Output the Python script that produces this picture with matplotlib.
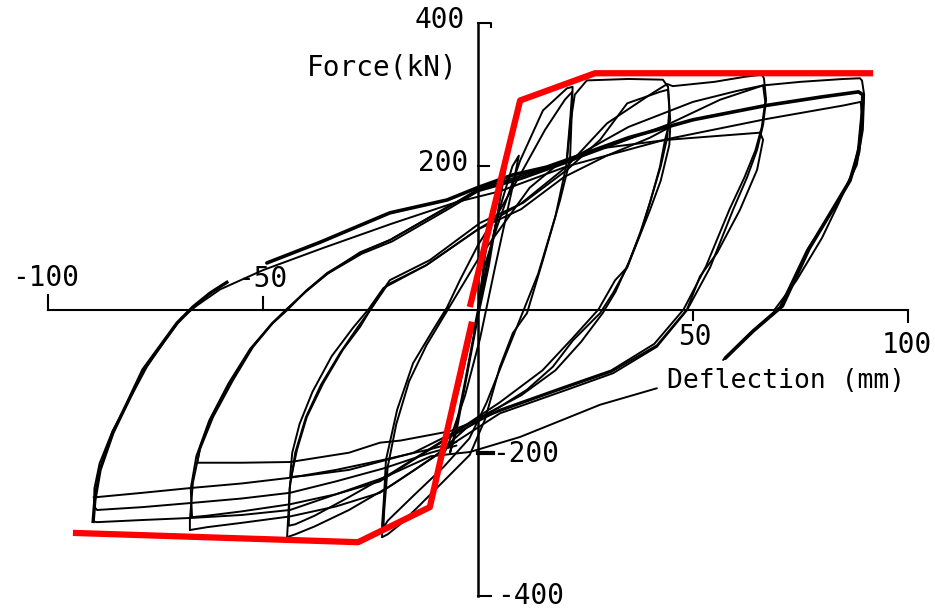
# Cyclic force-deflection hysteresis with red bilinear envelope (scanned test record look)

import matplotlib.pyplot as plt

# ---- data: deflection (mm) / force (kN) ----

# first small cycles around the origin
small_x = [0.0, 1.5, 3.5, 5.5, 6.5, 5.0, 2.5, 0.0, -2.5, -5.0, -6.5, -5.5, -3.0, -0.5, 2.0, 4.5]
small_y = [0, 70, 140, 185, 200, 150, 60, -10, -90, -170, -200, -175, -100, -20, 60, 130]
small2_x = [-1.0, 2.0, 5.0, 8.0, 9.5, 8.0, 4.0, 0.5, -3.0, -7.0, -9.0, -8.0, -4.0, -1.0]
small2_y = [-30, 60, 140, 200, 215, 170, 60, -40, -120, -190, -215, -190, -100, -20]

# +/-22 mm cycles
c22a_x = [0.0, 1.5, 4.4, 9.8, 15.1, 20.7, 22.0, 21.9, 21.4, 19.1, 15.1, 11.4, 8.1, 5.1, 1.6, -1.9,
          -7.7, -13.5, -18.1, -21.0, -22.3]
c22a_y = [0, 60, 115, 208, 278, 309, 311, 290, 209, 153, 69, -5, -33, -80, -154, -203,
          -238, -273, -300, -314, -318]
c22b_x = [-22.3, -22.3, -21.9, -21.4, -18.8, -15.1, -10.5, -7.2, -4.2, 0.0, 5.1, 9.8, 15.6, 20.2, 21.9,
          21.5, 20.5, 18.0, 14.0, 10.0, 6.0, 2.0, -2.0, -8.0, -15.0, -21.0, -22.0,
          -21.8, -21.0, -19.0, -16.0, -12.0, -8.0, -4.0, 0.0, 6.0, 12.0, 18.0, 20.7]
c22b_y = [-318, -300, -266, -210, -140, -75, -29, 3, 41, 90, 139, 188, 251, 293, 304,
          270, 200, 130, 50, -10, -70, -130, -180, -220, -260, -295, -305,
          -280, -220, -160, -100, -50, -10, 30, 70, 120, 170, 200, 209]

# +/-44 mm cycles
c44a_x = [20.7, 21.5, 22.5, 25.3, 35.0, 43.0, 44.2, 44.7, 43.5, 42.3, 40.0, 37.7, 34.7, 31.4, 28.4,
          22.1, 17.4, 11.4, 5.1, -2.6, -10.0, -20.0, -30.0, -38.0, -42.5, -44.4]
c44a_y = [209, 260, 300, 320, 322, 321, 311, 265, 237, 199, 149, 107, 59, 23, -5,
          -43, -80, -112, -136, -165, -205, -245, -280, -303, -314, -318]
c44b_x = [-44.4, -43.7, -42.1, -39.8, -36.0, -31.4, -27.4, -25.1, -22.1, -20.5, -11.2, 0.5, 10.5,
          20.7, 28.4, 34.7, 42.3, 44.2]
c44b_y = [-318, -242, -196, -150, -103, -56, -24, -1, 27, 41, 69, 121, 149,
          195, 237, 288, 304, 307]
c44c_x = [44.2, 44.5, 44.0, 42.5, 40.5, 38.0, 35.0, 32.0, 29.0, 24.0, 18.0, 10.0, 0.0, -10.0, -20.0,
          -30.0, -38.0, -42.5, -44.0, -43.8, -42.5, -40.0, -36.5, -32.0, -28.0, -25.0, -21.0, -12.0,
          0.0, 10.0, 20.0, 30.0, 40.0, 44.7]
c44c_y = [307, 280, 240, 200, 160, 110, 65, 25, -5, -45, -85, -120, -152, -190, -228,
          -262, -288, -300, -302, -250, -200, -150, -105, -60, -25, 0, 35, 62,
          112, 140, 185, 215, 240, 255]
c44d_x = [44.7, 44.5, 42.5, 40.0, 34.7, 31.9, 28.0, 22.0, 15.0, 5.0, -5.0, -15.0, -30.0, -40.0, -43.7,
          -43.2, -41.5, -38.5, -34.0, -29.0, -25.5, -22.0, -12.0, 0.0, 10.0, 20.7]
c44d_y = [255, 230, 180, 139, 59, 41, 0, -40, -85, -130, -170, -200, -224, -232, -234,
          -200, -160, -115, -65, -25, 0, 30, 62, 112, 148, 200]

# +/-67 mm cycles
c67a_x = [20.7, 30.0, 40.0, 44.0, 45.3, 55.0, 62.0, 66.0, 66.5, 67.0, 66.3, 64.9, 62.6, 59.3, 54.0,
          48.6, 41.6, 31.4, 20.7, 5.1, -6.5, -15.0, -22.8, -33.0, -43.7, -55.0, -63.0, -67.0]
c67a_y = [200, 260, 300, 315, 312, 318, 325, 328, 323, 293, 258, 223, 185, 139, 59,
          -1, -52, -89, -112, -145, -190, -225, -256, -275, -289, -298, -304, -308]
c67b_x = [-67.0, -67.0, -66.3, -64.7, -61.6, -57.0, -52.3, -47.7, -44.4, -39.8, -35.1, -27.4, -20.5,
          -7.2, 0.5, 9.8, 20.7, 28.4, 44.0, 56.3, 66.3]
c67b_y = [-308, -294, -242, -196, -150, -99, -52, -19, -1, 27, 51, 79, 97,
          143, 167, 184, 206, 223, 258, 293, 313]
c67c_x = [66.3, 66.8, 66.0, 64.5, 62.0, 58.5, 53.0, 47.8, 41.0, 31.0, 20.0, 5.0, -6.5, -15.0, -22.8,
          -33.0, -43.7, -55.0, -63.0, -66.5, -66.8, -65.5, -62.5, -58.0, -53.0, -48.0, -44.5, -40.0,
          -35.0, -27.0, -20.0, -7.0, 0.0, 10.0, 20.7, 28.4, 44.0, 65.6]
c67c_y = [313, 290, 255, 222, 185, 140, 60, 0, -48, -85, -108, -140, -178, -210, -240,
          -258, -272, -282, -288, -290, -250, -205, -155, -103, -55, -20, 0, 26,
          50, 78, 95, 140, 165, 182, 205, 225, 237, 247]
c67d_x = [65.6, 66.3, 64.9, 60.9, 55.6, 51.6, 48.6, 41.6, 31.0, 20.0, 5.0, -6.5, -18.0, -22.8, -30.0,
          -43.7, -55.0, -65.3, -64.5, -62.0, -57.5, -52.5, -48.0, -44.6, -40.0, -35.0, -27.4, -20.5]
c67d_y = [247, 237, 195, 139, 79, 46, 0, -50, -87, -110, -142, -170, -183, -186, -200,
          -213, -214, -214, -190, -150, -100, -53, -20, 0, 25, 50, 80, 97]

# +/-89 mm cycles
c89a_x = [-20.5, -7.0, 0.0, 10.0, 20.7, 35.0, 50.0, 60.0, 66.3, 75.0, 85.0, 88.8, 89.3, 89.8, 89.5,
          88.1, 85.3, 82.6, 76.5, 70.2, 63.3, 57.0]
c89a_y = [97, 143, 168, 187, 207, 255, 290, 305, 313, 318, 322, 323, 320, 300, 251,
          202, 167, 139, 83, 3.5, -33, -70.5]
c89low_x = [41.6, 28.4, 9.8, -1.9, -11.0, -22.0, -33.0, -43.7, -55.0, -66.3, -78.0, -88.6, -89.5]
c89low_y = [-110, -133, -178, -199, -205, -235, -258, -280, -287, -291, -294, -297, -296]
c89b_x = [-89.5, -89.1, -87.9, -84.9, -81.6, -77.9, -74.0, -70.0, -66.3, -62.3, -58.4]
c89b_y = [-296, -266, -224, -172, -131, -84, -52, -19, 3.5, 23, 38]
c89thick_x = [-49.1, -36.7, -20.5, -7.2, -0.2, 8.1, 16.0, 20.7, 35.0, 50.0, 67.0, 80.0, 88.5, 89.5,
              89.3, 88.5, 86.5, 82.5, 77.0, 70.8, 64.0, 57.5]
c89thick_y = [65, 94, 135, 153, 170, 188, 199, 209, 240, 265, 285, 297, 304, 300,
              270, 220, 180, 140, 85, 5, -30, -68]
c89c_x = [-5.0, -11.0, -22.0, -33.0, -43.7, -55.0, -66.3, -78.0, -88.6, -89.3, -89.2, -88.0, -85.0,
          -81.0, -77.0, -73.0, -69.0, -65.5, -60.0, -50.0, -36.0, -20.0, -5.0, 5.0, 20.7, 44.0, 67.0,
          85.0, 89.0, 89.3, 88.6, 87.0, 84.0, 80.0, 74.0, 69.0]
c89c_y = [-190, -200, -222, -240, -256, -264, -270, -276, -280, -275, -250, -215, -170,
          -125, -80, -45, -12, 5, 28, 55, 86, 120, 150, 165, 200, 238, 266,
          285, 290, 275, 230, 190, 150, 100, 40, 0]
c89d_x = [-5.0, -11.0, -22.0, -33.0, -43.7, -55.0, -66.3, -78.0, -88.6, -89.4]
c89d_y = [-185, -195, -210, -224, -235, -243, -249, -256, -262, -262]

# red idealised envelope (positive and negative branch)
env_pos_x = [-1.9, 9.8, 27.2, 91.9]
env_pos_y = [3.5, 292, 330, 330]
env_neg_x = [-1.4, -11.2, -27.9, -94.2]
env_neg_y = [-17, -276, -325, -312]

# ---- figure ----
fig = plt.figure(figsize=(9.35, 6.09), dpi=100)
ax = fig.add_axes([0, 0, 1, 1])
ax.set_xlim(-111.16, 106.28)
ax.set_ylim(-418.3, 432.3)
ax.axis("off")

loops = [(small_x, small_y), (small2_x, small2_y), (c22a_x, c22a_y), (c22b_x, c22b_y),
         (c44a_x, c44a_y), (c44b_x, c44b_y), (c44c_x, c44c_y), (c44d_x, c44d_y),
         (c67a_x, c67a_y), (c67b_x, c67b_y), (c67c_x, c67c_y), (c67d_x, c67d_y),
         (c89a_x, c89a_y), (c89low_x, c89low_y), (c89b_x, c89b_y),
         (c89c_x, c89c_y), (c89d_x, c89d_y)]
for lx, ly in loops:
    ax.plot(lx, ly, color="k", lw=1.4, solid_joinstyle="round", solid_capstyle="round")
ax.plot(c89thick_x, c89thick_y, color="k", lw=2.6, solid_joinstyle="round", solid_capstyle="round")
ax.plot(c89b_x, c89b_y, color="k", lw=2.4, solid_joinstyle="round")

# hand-drawn style axes through the origin
ax.plot([-100, 100], [0, 0], color="k", lw=1.5)
ax.plot([0, 0], [-400, 400], color="k", lw=1.8)
ax.plot([-100, -100], [0, 20], color="k", lw=1.5)
ax.plot([-50, -50], [0, 18], color="k", lw=1.5)
ax.plot([50, 50], [0, -14], color="k", lw=1.5)
ax.plot([100, 100], [0, -18], color="k", lw=1.5)
ax.plot([0, 3.0, 3.0], [400, 400, 395], color="k", lw=1.5)
ax.plot([0, 2.5], [200, 200], color="k", lw=1.5)
ax.plot([0, 3.5], [-200, -200], color="k", lw=3.0)
ax.plot([0, 3.0], [-400, -400], color="k", lw=1.5)

# red envelope
ax.plot(env_pos_x, env_pos_y, color="#ff0000", lw=4.5, solid_capstyle="butt")
ax.plot(env_neg_x, env_neg_y, color="#ff0000", lw=4.5, solid_capstyle="butt")

font = dict(family="DejaVu Sans Mono", color="k")
ax.text(-100.5, 44, "-100", ha="center", va="center", fontsize=20, **font)
ax.text(-50.2, 42.6, "-50", ha="center", va="center", fontsize=20, **font)
ax.text(50.5, -38.4, "50", ha="center", va="center", fontsize=20, **font)
ax.text(99.8, -49.6, "100", ha="center", va="center", fontsize=20, **font)
ax.text(-3.0, 404, "400", ha="right", va="center", fontsize=20, **font)
ax.text(-2.3, 204.6, "200", ha="right", va="center", fontsize=20, **font)
ax.text(3.3, -201.8, "-200", ha="left", va="center", fontsize=20, **font)
ax.text(4.4, -400, "-400", ha="left", va="center", fontsize=20, **font)
ax.text(-22.3, 338.7, "Force(kN)", ha="center", va="center", fontsize=20, **font)
ax.text(71.6, -99.9, "Deflection (mm)", ha="center", va="center", fontsize=19, **font)

fig.savefig("out.png", dpi=100, facecolor="white")
